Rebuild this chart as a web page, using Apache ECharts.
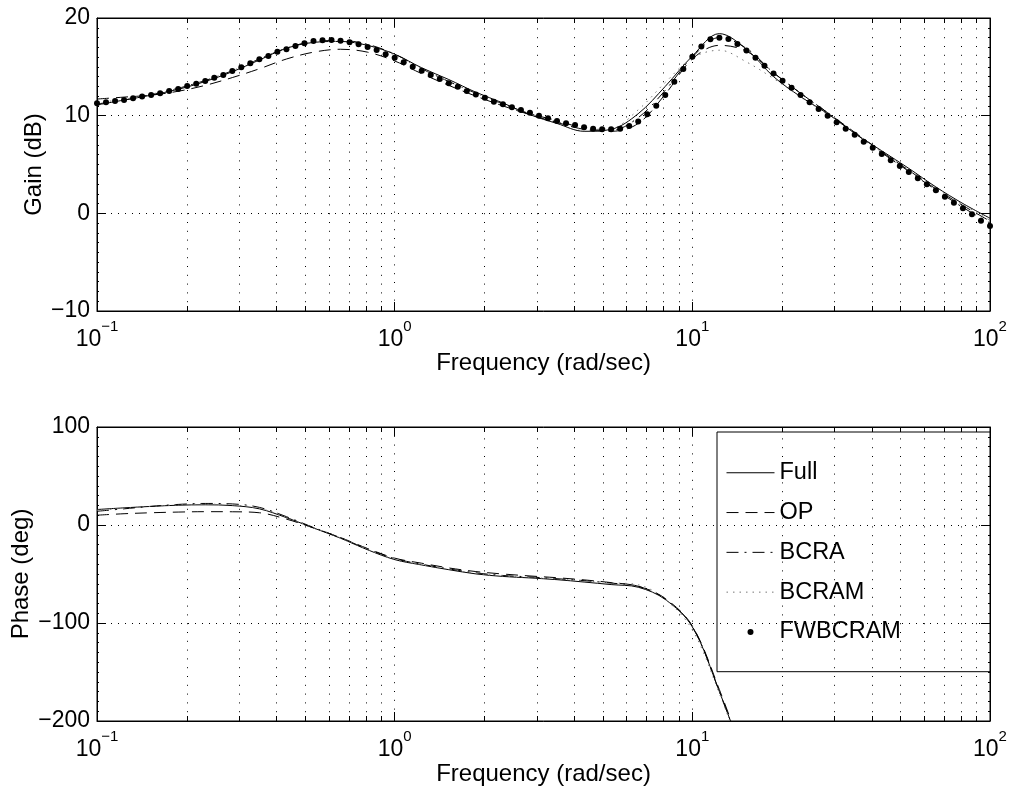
<!DOCTYPE html>
<html>
<head>
<meta charset="utf-8">
<script src="https://cdn.jsdelivr.net/npm/echarts@6/dist/echarts.min.js"></script>
<style>
html,body{margin:0;padding:0;background:#fff;}
#c{width:1013px;height:792px;}
</style>
</head>
<body>
<div id="c"></div>
<script>
// ---------------- data ----------------
// frequency samples (rad/sec), 100 log-spaced points 0.1 .. 100
const freq = [
  0.1, 0.10723, 0.11498, 0.12328, 0.13219, 0.14175, 0.15199, 0.16298, 0.17475, 0.18738,
  0.20092, 0.21544, 0.23101, 0.24771, 0.26561, 0.28480, 0.30539, 0.32745, 0.35112, 0.37649,
  0.40370, 0.43288, 0.46416, 0.49770, 0.53367, 0.57224, 0.61359, 0.65793, 0.70548, 0.75646,
  0.81113, 0.86975, 0.93260,
  1, 1.0723, 1.1498, 1.2328, 1.3219, 1.4175, 1.5199, 1.6298, 1.7475, 1.8738,
  2.0092, 2.1544, 2.3101, 2.4771, 2.6561, 2.8480, 3.0539, 3.2745, 3.5112, 3.7649,
  4.0370, 4.3288, 4.6416, 4.9770, 5.3367, 5.7224, 6.1359, 6.5793, 7.0548, 7.5646,
  8.1113, 8.6975, 9.3260,
  10, 10.723, 11.498, 12.328, 13.219, 14.175, 15.199, 16.298, 17.475, 18.738,
  20.092, 21.544, 23.101, 24.771, 26.561, 28.480, 30.539, 32.745, 35.112, 37.649,
  40.370, 43.288, 46.416, 49.770, 53.367, 57.224, 61.359, 65.793, 70.548, 75.646,
  81.113, 86.975, 93.260,
  100
];
// the continuous curves are given at every third sample (34 points)
const lineFreq = freq.filter((f, i) => i % 3 === 0);

// Gain (dB) at lineFreq
const gainFull  = [11.1, 11.6, 12.1, 12.7, 13.5, 14.5, 15.7, 16.9, 17.5, 17.6, 17.2, 16.3, 14.9, 13.7, 12.4, 11.3, 10.1, 9.2, 8.4, 8.6, 10.2, 13.0, 16.1, 18.4, 16.8, 14.0, 11.95, 10.2, 8.2, 6.4, 4.6, 2.7, 1.0, -0.5];
const gainOP    = [11.7, 11.9, 12.1, 12.5, 13.1, 13.9, 14.8, 15.8, 16.5, 16.8, 16.5, 15.6, 14.3, 13.1, 12.0, 11.0, 10.1, 9.3, 8.6, 8.4, 9.2, 12.2, 15.8, 17.2, 16.6, 14.4, 12.3, 10.3, 8.3, 6.3, 4.4, 2.5, 0.8, -0.8];
const gainBCRA  = [11.2, 11.6, 12.15, 12.8, 13.6, 14.6, 15.8, 16.9, 17.6, 17.7, 17.3, 16.3, 14.8, 13.5, 12.3, 11.2, 10.2, 9.5, 8.7, 8.5, 9.8, 12.6, 16.0, 18.0, 16.9, 14.4, 12.3, 10.3, 8.2, 6.2, 4.3, 2.4, 0.6, -1.0];
const gainBCRAM = [11.3, 11.7, 12.2, 12.8, 13.6, 14.6, 15.8, 16.9, 17.5, 17.6, 17.2, 16.2, 14.8, 13.5, 12.3, 11.2, 10.2, 9.4, 8.6, 8.7, 10.6, 13.4, 15.9, 16.7, 15.5, 13.8, 11.9, 10.1, 8.2, 6.3, 4.5, 2.6, 0.9, -0.7];
// FWBCRAM gain (dB) at every sample in freq
const gainFWBCRAM = [
  11.26, 11.37, 11.50, 11.60, 11.78, 11.95, 12.12, 12.29, 12.53, 12.73,
  13.04, 13.28, 13.55, 13.89, 14.16, 14.57, 14.95, 15.36, 15.77, 16.11,
  16.55, 16.79, 17.13, 17.41, 17.65, 17.72, 17.75, 17.68, 17.51, 17.30,
  17.03, 16.72, 16.28, 15.94, 15.46, 15.02, 14.61, 14.16, 13.75, 13.31,
  12.97, 12.53, 12.18, 11.84, 11.43, 11.16, 10.85, 10.58, 10.31, 10.00,
  9.73, 9.45, 9.22, 9.04, 8.81, 8.67, 8.60, 8.60, 8.67, 8.94,
  9.39, 10.14, 11.02, 12.12, 13.48, 14.78, 16.04, 17.07, 17.82, 17.99,
  17.85, 17.34, 16.66, 15.94, 15.12, 14.33, 13.58, 12.87, 12.12, 11.37,
  10.68, 10.00, 9.32, 8.67, 8.05, 7.34, 6.72, 6.08, 5.43, 4.85,
  4.23, 3.58, 2.97, 2.36, 1.71, 1.09, 0.51, -0.10, -0.75, -1.30
];

// Phase (deg) at lineFreq (the curves leave the plot below -200)
const phaseFull  = [15.8, 17.5, 19.0, 20.2, 20.6, 19.8, 16.5, 7.5, -3.0, -13.5, -25.3, -35.3, -40.8, -45.6, -49.9, -52.5, -54.0, -55.8, -58.2, -60.8, -63.5, -76.0, -104.0, -170.0, -245.0];
const phaseOP    = [10.0, 11.5, 12.5, 13.2, 13.6, 13.5, 12.5, 6.0, -3.0, -12.8, -24.0, -33.8, -39.0, -43.8, -47.5, -50.0, -52.0, -53.8, -56.0, -58.8, -62.5, -75.0, -103.0, -168.0, -243.0];
const phaseBCRA  = [14.0, 16.5, 19.0, 21.0, 22.0, 21.5, 18.0, 8.5, -2.5, -13.0, -24.6, -34.3, -40.0, -44.8, -48.8, -51.5, -53.0, -54.8, -56.8, -59.3, -62.5, -75.5, -103.5, -170.0, -245.0];
const phaseBCRAM = [15.0, 17.0, 19.0, 20.5, 21.2, 20.5, 17.0, 8.0, -3.0, -13.2, -25.0, -34.8, -40.5, -45.2, -49.3, -52.0, -53.5, -55.2, -57.0, -59.0, -61.0, -76.0, -107.0, -172.0, -247.0];

const seriesNames = ['Full', 'OP', 'BCRA', 'BCRAM', 'FWBCRAM'];
const gainAxis  = { min: -10,  max: 20,  interval: 10 };
const phaseAxis = { min: -200, max: 100, interval: 100 };
const xRange = { min: 0.1, max: 100 };
const minorMultipliers = [2, 3, 4, 5, 6, 7, 8, 9];
const decadeStarts = [0.1, 1, 10];

// ---------------- styling ----------------
const FONT = '"Liberation Sans", Arial, Helvetica, sans-serif';
const lineStyles = {
  Full:  { color: '#000', width: 1, type: 'solid' },
  OP:    { color: '#000', width: 1, type: [12, 7] },
  BCRA:  { color: '#000', width: 1, type: [12, 6, 2, 6] },
  BCRAM: { color: '#777', width: 1, type: [1.5, 5] }
};

const minorX = [];
decadeStarts.forEach(d => minorMultipliers.forEach(m => minorX.push(+(d * m).toPrecision(6))));

const pairs = (xs, ys) => ys.map((y, i) => [xs[i], y]);
const minusFmt = v => (v < 0 ? '\u2212' + Math.abs(v) : String(v));

function xAxisMain(gridIndex, gap) {
  return {
    type: 'log', logBase: 10, gridIndex, min: xRange.min, max: xRange.max, position: 'bottom',
    name: 'Frequency (rad/sec)', nameLocation: 'middle', nameGap: gap, nameMoveOverlap: false,
    nameTextStyle: { fontFamily: FONT, fontSize: 24, color: '#000' },
    axisLine: { show: true, onZero: false, lineStyle: { color: '#000', width: 1 } },
    axisTick: { show: true, inside: true, length: 9, lineStyle: { color: '#000', width: 1 } },
    axisLabel: {
      show: true, margin: 17, showMinLabel: true, showMaxLabel: true, hideOverlap: false,
      formatter: v => {
        const e = Math.round(Math.log10(v));
        return '{b|10}{s|' + (e < 0 ? '\u2212' + (-e) : String(e)) + '}';
      },
      rich: {
        b: { fontFamily: FONT, fontSize: 23, color: '#000', lineHeight: 23 },
        s: { fontFamily: FONT, fontSize: 15, color: '#000', lineHeight: 15, padding: [0, 0, 25, 0] }
      }
    },
    splitLine: { show: true, lineStyle: { color: '#000', width: 1, type: [1, 7.8] } },
    minorTick: { show: false }, minorSplitLine: { show: false }
  };
}
function xAxisTop(gridIndex) {
  return {
    type: 'log', logBase: 10, gridIndex, min: xRange.min, max: xRange.max, position: 'top',
    axisLine: { show: true, onZero: false, lineStyle: { color: '#000', width: 1 } },
    axisTick: { show: true, inside: true, length: 9, lineStyle: { color: '#000', width: 1 } },
    axisLabel: { show: false }, splitLine: { show: false }
  };
}
function yAxisMain(gridIndex, rng, name, gap) {
  return {
    type: 'value', gridIndex, min: rng.min, max: rng.max, interval: rng.interval, position: 'left',
    name, nameLocation: 'middle', nameGap: gap, nameRotate: 90, nameMoveOverlap: false,
    nameTextStyle: { fontFamily: FONT, fontSize: 24, color: '#000' },
    axisLine: { show: true, onZero: false, lineStyle: { color: '#000', width: 1 } },
    axisTick: { show: true, inside: true, length: 9, lineStyle: { color: '#000', width: 1 } },
    minorTick: { show: true, splitNumber: 10, length: 2, lineStyle: { color: '#000', width: 1 } },
    axisLabel: { show: true, margin: 7, fontFamily: FONT, fontSize: 23, color: '#000', formatter: minusFmt,
                 showMinLabel: true, showMaxLabel: true, hideOverlap: false },
    splitLine: { show: true, lineStyle: { color: '#000', width: 1, type: [1, 6] } }
  };
}
function yAxisRight(gridIndex, rng) {
  return {
    type: 'value', gridIndex, min: rng.min, max: rng.max, interval: rng.interval, position: 'right',
    axisLine: { show: true, onZero: false, lineStyle: { color: '#000', width: 1 } },
    axisTick: { show: true, inside: true, length: 9, lineStyle: { color: '#000', width: 1 } },
    minorTick: { show: true, splitNumber: 10, length: 2, lineStyle: { color: '#000', width: 1 } },
    axisLabel: { show: false }, splitLine: { show: false }
  };
}
function minorGridSeries(axisIndex, rng) {
  return {
    type: 'custom', xAxisIndex: axisIndex, yAxisIndex: axisIndex, silent: true, z: 1, clip: false,
    data: minorX.map(v => [v, rng.min]),
    encode: { x: 0, y: 1 },
    renderItem: (params, api) => {
      const x = api.value(0);
      const p0 = api.coord([x, rng.min]);
      const p1 = api.coord([x, rng.max]);
      const xx = Math.round(p0[0]) + 0.5;
      return {
        type: 'group',
        children: [
          { type: 'line', shape: { x1: xx, y1: p0[1], x2: xx, y2: p1[1] },
            style: { stroke: '#000', lineWidth: 1, lineDash: [1, 7.8] } },
          { type: 'line', shape: { x1: xx, y1: p0[1], x2: xx, y2: p0[1] - 5 },
            style: { stroke: '#000', lineWidth: 1 } },
          { type: 'line', shape: { x1: xx, y1: p1[1], x2: xx, y2: p1[1] + 5 },
            style: { stroke: '#000', lineWidth: 1 } }
        ]
      };
    }
  };
}
function curve(name, axisIndex, values) {
  return {
    type: 'line', name, xAxisIndex: axisIndex, yAxisIndex: axisIndex,
    data: pairs(lineFreq, values), symbol: 'none', smooth: 0.35, z: 3,
    lineStyle: lineStyles[name], itemStyle: { color: lineStyles[name].color },
    clip: true, animation: false
  };
}

const option = {
  animation: false,
  backgroundColor: '#fff',
  textStyle: { fontFamily: FONT },
  grid: [
    { left: 97, top: 18, width: 893, height: 293, show: true, borderColor: '#000', borderWidth: 1,
      backgroundColor: 'transparent', containLabel: false, outerBoundsMode: 'none' },
    { left: 97, top: 427, width: 893, height: 294, show: true, borderColor: '#000', borderWidth: 1,
      backgroundColor: 'transparent', containLabel: false, outerBoundsMode: 'none' }
  ],
  xAxis: [xAxisMain(0, 40), xAxisTop(0), xAxisMain(1, 41), xAxisTop(1)],
  yAxis: [yAxisMain(0, gainAxis, 'Gain (dB)', 51), yAxisRight(0, gainAxis),
          yAxisMain(1, phaseAxis, 'Phase (deg)', 64), yAxisRight(1, phaseAxis)],
  legend: {
    data: [
      { name: 'Full', itemStyle: { opacity: 0 } },
      { name: 'OP', itemStyle: { opacity: 0 } },
      { name: 'BCRA', itemStyle: { opacity: 0 } },
      { name: 'BCRAM', itemStyle: { opacity: 0 } },
      { name: 'FWBCRAM' }
    ],
    orient: 'vertical', left: 717, top: 432,
    padding: [28.75, 89.6, 27.75, 9], itemGap: 15.8, itemWidth: 48, itemHeight: 6,
    borderColor: '#000', borderWidth: 1, backgroundColor: 'transparent',
    lineStyle: { width: 1 },
    textStyle: { fontFamily: FONT, fontSize: 23.5, color: '#000', lineHeight: 23.5 },
    selectedMode: false
  },
  series: [
    minorGridSeries(0, gainAxis),
    minorGridSeries(2, phaseAxis),
    curve('Full', 0, gainFull),
    curve('OP', 0, gainOP),
    curve('BCRA', 0, gainBCRA),
    curve('BCRAM', 0, gainBCRAM),
    {
      type: 'scatter', name: 'FWBCRAM', xAxisIndex: 0, yAxisIndex: 0,
      data: pairs(freq, gainFWBCRAM), symbol: 'circle', symbolSize: 6, z: 4,
      itemStyle: { color: '#000', opacity: 1 }, animation: false
    },
    curve('Full', 2, phaseFull),
    curve('OP', 2, phaseOP),
    curve('BCRA', 2, phaseBCRA),
    curve('BCRAM', 2, phaseBCRAM)
  ]
};

const chart = echarts.init(document.getElementById('c'), null, { renderer: 'canvas' });
chart.setOption(option);
</script>
</body>
</html>
